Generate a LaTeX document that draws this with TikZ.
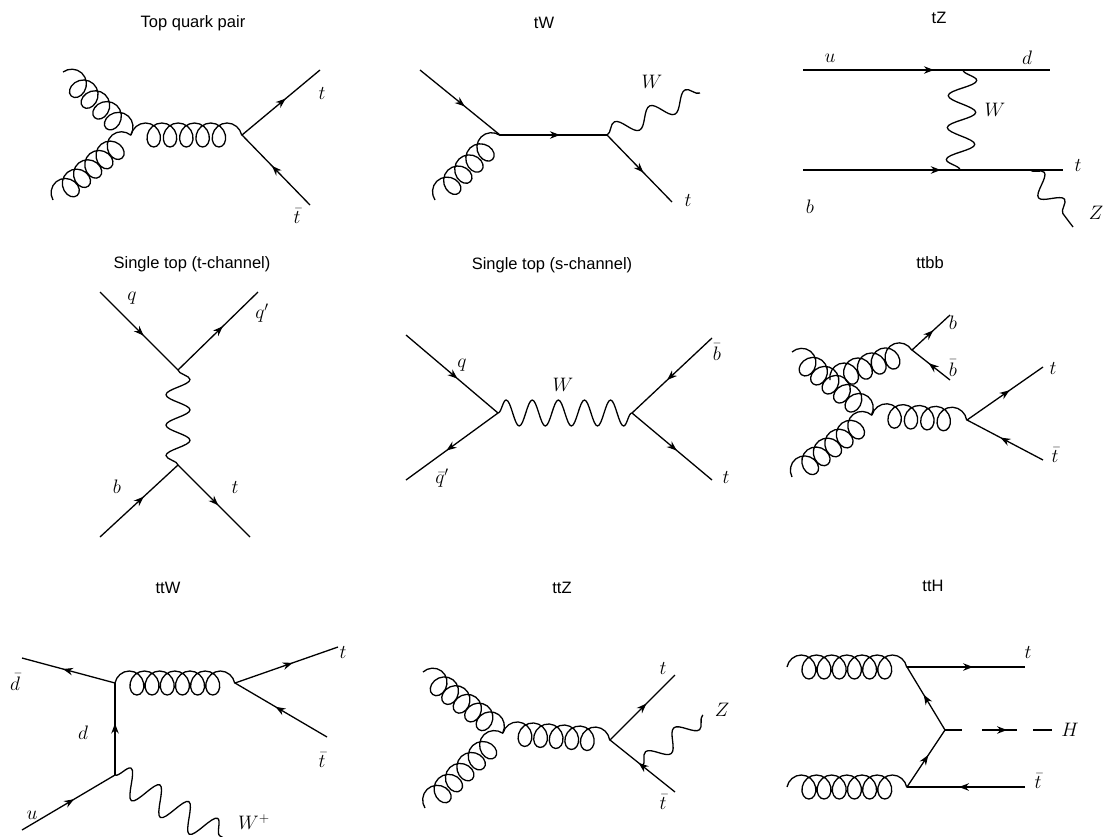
\RequirePackage{fix-cm}
\documentclass[tikz,border=0pt]{standalone}
\usepackage{fontspec}
\newfontfamily\titlefont{Liberation Sans}
\usepackage{tikz}
\usetikzlibrary{arrows.meta}
\usetikzlibrary{decorations.markings}
\usetikzlibrary{decorations.pathmorphing}

\begin{document}
\begin{tikzpicture}[x=1pt, y=-1pt, >=Stealth, line width=1.3pt, line join=round,
    fermion/.style={postaction={decorate, decoration={markings,
        mark=at position #1 with {\arrow{Stealth[length=10pt, width=7.5pt]}}}}},
    fermion/.default=0.56,
    gluon/.style={decorate, decoration={coil, amplitude=12pt, segment length=#1, aspect=0.875}},
    gluon/.default=15pt,
    boson/.style={decorate, decoration={snake, amplitude=12pt, segment length=30pt}},
    rotulo/.style={font=\fontsize{19.5}{22}\selectfont, inner sep=0pt},
    titulo/.style={font=\titlefont\fontsize{16.5}{19}\selectfont, inner sep=0pt}]

    \useasboundingbox (0,0) rectangle (1107,836);

    % par de quarks top
    \node[titulo] (tit1) at (193,23) {Top quark pair};
    \coordinate (g1a) at (63,72);
    \coordinate (g1b) at (53,200);
    \coordinate (v1a) at (131,135);
    \coordinate (v1b) at (242,135);
    \coordinate (t1) at (320,70);
    \coordinate (tb1) at (310,205);
    \draw[gluon=15.88pt] (g1a) -- (v1a);
    \draw[gluon=14.6pt] (g1b) -- (v1a);
    \draw[gluon=16.3pt] (v1a) -- (v1b);
    \draw[fermion] (v1b) -- (t1);
    \draw[fermion] (tb1) -- (v1b);
    \node[rotulo] (lt1) at (322,93) {$t$};
    \node[rotulo] (ltb1) at (297,216) {$\bar{t}$};

    % tW
    \node[titulo] (tit2) at (544,23) {tW};
    \coordinate (q2) at (420,70);
    \coordinate (g2) at (435,200);
    \coordinate (v2a) at (500,135);
    \coordinate (v2b) at (607,135);
    \coordinate (w2) at (700,93);
    \coordinate (t2) at (672,202);
    \draw[fermion] (q2) -- (v2a);
    \draw[gluon=15.7pt] (g2) -- (v2a);
    \draw[fermion] (v2a) -- (v2b);
    \draw[boson, decoration={amplitude=9pt, segment length=38.8pt}] (v2b) -- (w2);
    \draw[fermion] (v2b) -- (t2);
    \node[rotulo] (lw2) at (652,82) {$W$};
    \node[rotulo] (lt2) at (688,200) {$t$};

    % tZ
    \node[titulo] (tit3) at (939,18) {tZ};
    \coordinate (u3) at (803,70);
    \coordinate (d3) at (1050,70);
    \coordinate (w3a) at (963,70);
    \coordinate (w3b) at (960,170);
    \coordinate (b3) at (803,170);
    \coordinate (t3) at (1063,170);
    \coordinate (z3a) at (1030,170);
    \coordinate (z3b) at (1073,227);
    \draw[fermion=0.53] (u3) -- (d3);
    \draw[boson, decoration={amplitude=14pt, segment length=32pt}] (w3a) -- (w3b);
    \draw[fermion=0.53] (b3) -- (t3);
    \draw[boson, decoration={amplitude=10pt, segment length=33.6pt}] (z3a) -- (z3b);
    \node[rotulo] (lu3) at (830,58) {$u$};
    \node[rotulo] (ld3) at (1027,58) {$d$};
    \node[rotulo] (lw3) at (995,110) {$W$};
    \node[rotulo] (lt3) at (1078,165) {$t$};
    \node[rotulo] (lb3) at (810,207) {$b$};
    \node[rotulo] (lz3) at (1096,213) {$Z$};

    % single top (canal t)
    \node[titulo] (tit4) at (192,264) {Single top (t-channel)};
    \coordinate (q4) at (100,292);
    \coordinate (v4a) at (178,370);
    \coordinate (qp4) at (258,292);
    \coordinate (v4b) at (178,465);
    \coordinate (b4) at (100,537);
    \coordinate (t4) at (250,537);
    \draw[fermion] (q4) -- (v4a);
    \draw[fermion] (v4a) -- (qp4);
    \draw[boson, decoration={amplitude=12pt, segment length=30.4pt}] (v4a) -- (v4b);
    \draw[fermion] (b4) -- (v4b);
    \draw[fermion] (v4b) -- (t4);
    \node[rotulo] (lq4) at (132,298) {$q$};
    \node[rotulo] (lqp4) at (262,313) {$q'$};
    \node[rotulo] (lb4) at (117,487) {$b$};
    \node[rotulo] (lt4) at (235,487) {$t$};

    % single top (canal s)
    \node[titulo] (tit5) at (552,265) {Single top (s-channel)};
    \coordinate (q5) at (406,335);
    \coordinate (v5a) at (498,413);
    \coordinate (qb5) at (406,480);
    \coordinate (v5b) at (632,413);
    \coordinate (bb5) at (712,338);
    \coordinate (t5) at (712,480);
    \draw[fermion] (q5) -- (v5a);
    \draw[fermion] (v5a) -- (qb5);
    \draw[boson, decoration={amplitude=13pt, segment length=26.1pt}] (v5a) -- (v5b);
    \draw[fermion] (bb5) -- (v5b);
    \draw[fermion] (v5b) -- (t5);
    \node[rotulo] (lq5) at (462,365) {$q$};
    \node[rotulo] (lqb5) at (442,478) {$\bar{q}'$};
    \node[rotulo] (lw5) at (563,385) {$W$};
    \node[rotulo] (lbb5) at (717,352) {$\bar{b}$};
    \node[rotulo] (lt5) at (726,477) {$t$};

    % ttbb
    \node[titulo] (tit6) at (930,263) {ttbb};
    \coordinate (g6a) at (792,352);
    \coordinate (g6b) at (792,477);
    \coordinate (v6a) at (872,415);
    \coordinate (v6c) at (830,380);
    \coordinate (v6d) at (912,350);
    \coordinate (v6b) at (967,420);
    \coordinate (b6) at (950,315);
    \coordinate (bb6) at (950,380);
    \coordinate (t6) at (1043,367);
    \coordinate (tb6) at (1043,460);
    \draw[gluon=14.6pt] (g6a) -- (v6a);
    \draw[gluon=14.53pt] (g6b) -- (v6a);
    \draw[gluon=14.68pt] (v6c) -- (v6d);
    \draw[gluon=16.4pt] (v6a) -- (v6b);
    \draw[fermion] (v6d) -- (b6);
    \draw[fermion] (bb6) -- (v6d);
    \draw[fermion] (v6b) -- (t6);
    \draw[fermion] (tb6) -- (v6b);
    \node[rotulo] (lb6) at (953,323) {$b$};
    \node[rotulo] (lbb6) at (953,368) {$\bar{b}$};
    \node[rotulo] (lt6) at (1053,368) {$t$};
    \node[rotulo] (ltb6) at (1055,455) {$\bar{t}$};

    % ttW
    \node[titulo] (tit7) at (168,588) {ttW};
    \coordinate (db7) at (22,658);
    \coordinate (v7a) at (115,683);
    \coordinate (v7b) at (235,683);
    \coordinate (t7) at (338,647);
    \coordinate (tb7) at (327,737);
    \coordinate (v7c) at (115,775);
    \coordinate (u7) at (22,830);
    \coordinate (w7) at (234,844);
    \draw[fermion] (v7a) -- (db7);
    \draw[gluon=15.18pt] (v7a) -- (v7b);
    \draw[fermion] (v7b) -- (t7);
    \draw[fermion] (tb7) -- (v7b);
    \draw[fermion] (v7c) -- (v7a);
    \draw[fermion] (u7) -- (v7c);
    \draw[boson, decoration={amplitude=14pt, segment length=33.4pt}] (v7c) -- (w7);
    \node[rotulo] (ldb7) at (15,682) {$\bar{d}$};
    \node[rotulo] (ld7) at (83,733) {$d$};
    \node[rotulo] (lu7) at (32,815) {$u$};
    \node[rotulo] (lw7) at (254,822) {$W^+$};
    \node[rotulo] (lt7) at (343,652) {$t$};
    \node[rotulo] (ltb7) at (322,760) {$\bar{t}$};

    % ttZ
    \node[titulo] (tit8) at (562,588) {ttZ};
    \coordinate (g8a) at (423,672);
    \coordinate (g8b) at (425,808);
    \coordinate (v8a) at (503,733);
    \coordinate (v8b) at (610,740);
    \coordinate (t8) at (675,675);
    \coordinate (tb8) at (675,792);
    \coordinate (z8a) at (642.5,766);
    \coordinate (z8b) at (703,715);
    \draw[gluon=14.42pt] (g8a) -- (v8a);
    \draw[gluon=15.8pt] (g8b) -- (v8a);
    \draw[gluon=15.62pt] (v8a) -- (v8b);
    \draw[fermion] (v8b) -- (t8);
    \draw[fermion] (tb8) -- (v8b);
    \draw[boson, decoration={amplitude=9pt, segment length=37pt}] (z8a) -- (z8b);
    \node[rotulo] (lt8) at (663,668) {$t$};
    \node[rotulo] (lz8) at (722,710) {$Z$};
    \node[rotulo] (ltb8) at (663,802) {$\bar{t}$};

    % ttH
    \node[titulo] (tit9) at (933,586) {ttH};
    \coordinate (g9a) at (787,667);
    \coordinate (v9a) at (907,667);
    \coordinate (t9) at (1025,667);
    \coordinate (g9b) at (787,787);
    \coordinate (v9b) at (907,787);
    \coordinate (tb9) at (1025,787);
    \coordinate (v9c) at (945,730);
    \coordinate (h9) at (1052,730);
    \draw[gluon=15.18pt] (g9a) -- (v9a);
    \draw[gluon=15.18pt] (g9b) -- (v9b);
    \draw[fermion] (v9a) -- (t9);
    \draw[fermion] (v9c) -- (v9a);
    \draw[fermion] (v9b) -- (v9c);
    \draw[fermion] (tb9) -- (v9b);
    \draw[fermion=0.58, dash pattern=on 17pt off 20pt on 35pt off 16pt on 19pt] (v9c) -- (h9);
    \node[rotulo] (lt9) at (1028,652) {$t$};
    \node[rotulo] (lh9) at (1070,730) {$H$};
    \node[rotulo] (ltb9) at (1038,781) {$\bar{t}$};

\end{tikzpicture}
\end{document}
